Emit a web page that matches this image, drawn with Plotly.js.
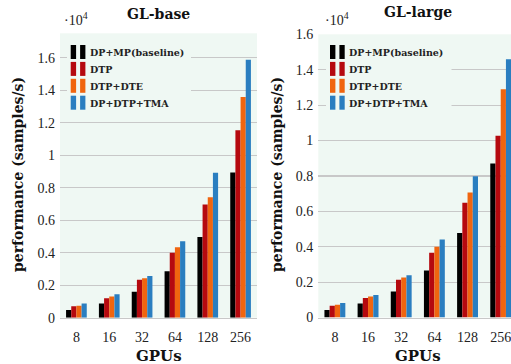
<!DOCTYPE html>
<html>
<head>
<meta charset="utf-8">
<script src="https://cdn.plot.ly/plotly-3.0.1.min.js"></script>
<style>html,body{margin:0;padding:0;background:#fff;}#chart{width:511px;height:364px;}</style>
</head>
<body>
<div id="chart"></div>
<script>
// ---- data ----
const gpus = ["8", "16", "32", "64", "128", "256"];
const seriesNames = ["DP+MP(baseline)", "DTP", "DTP+DTE", "DP+DTP+TMA"];
const seriesColors = ["#000000", "#b5090f", "#f0650f", "#2a7ec0"];
// GL-base, samples/s
const baseDPMP = [470, 880, 1600, 2860, 4970, 8930];
const baseDTP = [700, 1200, 2330, 3990, 6960, 11530];
const baseDTE = [730, 1310, 2430, 4340, 7410, 13580];
const baseTMA = [880, 1440, 2560, 4710, 8920, 15880];
// GL-large, samples/s
const largeDPMP = [430, 790, 1470, 2660, 4770, 8700];
const largeDTP = [660, 1100, 2130, 3660, 6490, 10270];
const largeDTE = [720, 1180, 2260, 4000, 7060, 12890];
const largeTMA = [820, 1270, 2380, 4400, 7980, 14590];
const yTickVals = [0, 0.2, 0.4, 0.6, 0.8, 1, 1.2, 1.4, 1.6];
const yTickText = ["0", "0.2", "0.4", "0.6", "0.8", "1", "1.2", "1.4", "1.6"];
const scale = 1e4;

const W = 511, H = 364;
const px = v => v / W;
const py = v => 1 - v / H;

const baseSeries = [baseDPMP, baseDTP, baseDTE, baseTMA];
const largeSeries = [largeDPMP, largeDTP, largeDTE, largeTMA];

const traces = [];
baseSeries.forEach((s, i) => traces.push({
  type: 'bar', x: gpus, y: s.map(v => v / scale), name: seriesNames[i],
  marker: {color: seriesColors[i], line: {width: 0}}, xaxis: 'x', yaxis: 'y', showlegend: false,
  hoverinfo: 'none'
}));
largeSeries.forEach((s, i) => traces.push({
  type: 'bar', x: gpus, y: s.map(v => v / scale), name: seriesNames[i],
  marker: {color: seriesColors[i], line: {width: 0}}, xaxis: 'x2', yaxis: 'y2', showlegend: false,
  hoverinfo: 'none'
}));

const serif = "Liberation Serif, serif";
const dserif = "DejaVu Serif, serif";
const bg = "#eff8f3";
const grid = "#c8c8c8";

const axisCommon = {
  showgrid: false, zeroline: false, showline: true, linecolor: grid, linewidth: 1.2,
  ticks: '', tickfont: {family: serif, size: 14, color: '#222'}, ticklabelstandoff: 6,
  fixedrange: true
};
const yCommon = {
  showgrid: true, gridcolor: grid, gridwidth: 1.2, zeroline: false, showline: false,
  ticks: '', tickfont: {family: serif, size: 14, color: '#222'}, ticklabelstandoff: 4,
  tickmode: 'array', tickvals: yTickVals, ticktext: yTickText, fixedrange: true
};

const layout = {
  width: W, height: H, margin: {l: 0, r: 0, t: 0, b: 0},
  paper_bgcolor: '#ffffff', plot_bgcolor: bg,
  barmode: 'group', bargap: 0.37, bargroupgap: 0,
  showlegend: false,
  xaxis: Object.assign({}, axisCommon, {domain: [px(60), px(257)], range: [-0.5, 5.5], anchor: 'y', type: 'category'}),
  yaxis: Object.assign({}, yCommon, {domain: [1 - 317.7 / H, 1 - 33.3 / H], range: [0, 1.75], anchor: 'x'}),
  xaxis2: Object.assign({}, axisCommon, {domain: [px(318.3), 1], range: [-0.5, 5.31], anchor: 'y2', type: 'category'}),
  yaxis2: Object.assign({}, yCommon, {domain: [1 - 317.5 / H, 1 - 34.3 / H], range: [0, 1.6], anchor: 'x2'}),
  shapes: [],
  annotations: []
};

function ann(text, x, y, font, extra) {
  layout.annotations.push(Object.assign({
    text: text, xref: 'paper', yref: 'paper', x: px(x), y: py(y),
    xanchor: 'center', yanchor: 'middle', showarrow: false, font: font
  }, extra || {}));
}
const titleFont = {family: dserif, size: 14, color: '#111', weight: 'bold'};
ann('<b>GL-base</b>', 158.5, 14, titleFont);
ann('<b>GL-large</b>', 417.5, 12, titleFont);
ann('·10<sup>4</sup>', 76, 19, {family: serif, size: 14, color: '#222'});
ann('·10<sup>4</sup>', 337, 19, {family: serif, size: 14, color: '#222'});
ann('<b>performance (samples/s)</b>', 18, 175, titleFont, {textangle: -90});
ann('<b>performance (samples/s)</b>', 277, 175, titleFont, {textangle: -90});
ann('<b>GPUs</b>', 158.5, 356, {family: dserif, size: 15, color: '#111'});
ann('<b>GPUs</b>', 417.5, 356, {family: dserif, size: 15, color: '#111'});

// legend boxes (cover gridlines) and entries
function legend(boxX0, boxX1, iconX, textX) {
  layout.shapes.push({type: 'rect', xref: 'paper', yref: 'paper', layer: 'above',
    x0: px(boxX0), x1: px(boxX1), y0: py(41), y1: py(114), fillcolor: bg, line: {width: 0}});
  seriesNames.forEach((n, i) => {
    const y0 = 45 + 16.9 * i, y1 = y0 + 14;
    [[iconX, iconX + 5.4], [iconX + 9.4, iconX + 14.7]].forEach(r => {
      layout.shapes.push({type: 'rect', xref: 'paper', yref: 'paper', layer: 'above',
        x0: px(r[0]), x1: px(r[1]), y0: py(y1), y1: py(y0), fillcolor: seriesColors[i], line: {width: 0}});
    });
    ann('<b>' + n + '</b>', textX, (y0 + y1) / 2 + 0.5, {family: dserif, size: 9.5, color: '#222'}, {xanchor: 'left'});
  });
}
legend(67, 191, 70.7, 87.5);
legend(326, 451.5, 330, 347.3);

Plotly.newPlot('chart', traces, layout, {staticPlot: true, displayModeBar: false});
</script>
</body>
</html>
